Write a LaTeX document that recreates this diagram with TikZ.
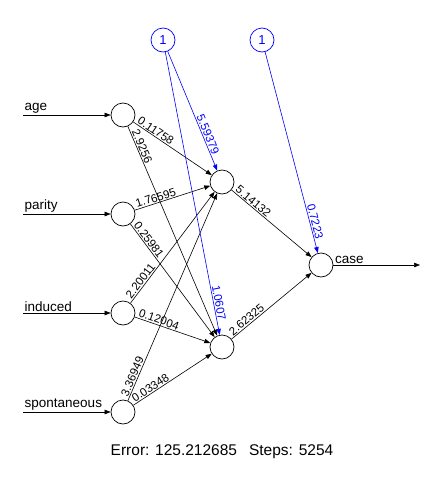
\documentclass[tikz,border=0pt]{standalone}
\usepackage{fontspec}
\setmainfont{Liberation Sans}
\usetikzlibrary{arrows.meta, positioning}
\tikzstyle{neuron} = [circle, draw, minimum size=24pt, inner sep=0pt, line width=0.7pt]
\tikzstyle{biasnode} = [neuron, draw=blue, text=blue, font=\fontsize{13}{15}\selectfont]
\tikzstyle{conn} = [->, >={Triangle[length=6pt,width=4.5pt]}, line width=0.6pt]
\tikzstyle{biasconn} = [conn, draw=blue]
\tikzstyle{weight} = [sloped, above, inner sep=1pt, font=\fontsize{11.5}{13}\selectfont]
\tikzstyle{inlabel} = [anchor=south west, inner sep=1.5pt, font=\fontsize{13.5}{15}\selectfont]

\begin{document}
\begin{tikzpicture}[x=1pt, y=-1pt, node distance=99pt]
\useasboundingbox (0,0) rectangle (438,482);

% input layer
\node (age)    [neuron] at (123,115) {};
\node (parity) [neuron, below of=age] {};
\node (induced)[neuron, below of=parity] {};
\node (spont)  [neuron, below of=induced] {};

% hidden and output layer
\node (hid1) [neuron] at (222,182) {};
\node (hid2) [neuron] at (222,347) {};
\node (out)  [neuron] at (321,265) {};

% bias nodes
\node (bias1) [biasnode] at (163,40) {1};
\node (bias2) [biasnode] at (262,40) {1};

\coordinate (agein)     at (23,115);
\coordinate (parityin)  at (23,214);
\coordinate (inducedin) at (23,313);
\coordinate (spontin)   at (23,412);
\coordinate (outend)    at (420,265);

\node (agelab)     [inlabel] at (agein) {age};
\node (paritylab)  [inlabel] at (parityin) {parity};
\node (inducedlab) [inlabel] at (inducedin) {induced};
\node (spontlab)   [inlabel] at (spontin) {spontaneous};
\node (caselab)    [inlabel] at (out.east) {case};

\draw[conn] (agein) -- (age);
\draw[conn] (parityin) -- (parity);
\draw[conn] (inducedin) -- (induced);
\draw[conn] (spontin) -- (spont);
\draw[conn] (out) -- (outend);

% weights
\draw[conn] (age) -- node[weight, pos=0.25] {0.11758} (hid1);
\draw[conn] (age) -- node[weight, pos=0.105] {2.9256} (hid2);
\draw[conn] (parity) -- node[weight, pos=0.30] {1.76595} (hid1);
\draw[conn] (parity) -- node[weight, pos=0.17] {0.25981} (hid2);
\draw[conn] (induced) -- node[weight, pos=0.17] {2.20011} (hid1);
\draw[conn] (induced) -- node[weight, pos=0.30] {0.12004} (hid2);
\draw[conn] (spont) -- node[weight, pos=0.106] {3.36949} (hid1);
\draw[conn] (spont) -- node[weight, pos=0.255] {0.03348} (hid2);
\draw[conn] (hid1) -- node[weight, pos=0.23] {5.14132} (out);
\draw[conn] (hid2) -- node[weight, pos=0.23] {2.62325} (out);

% bias weights
\draw[biasconn] (bias1) -- node[weight, blue, pos=0.715] {5.59379} (hid1);
\draw[biasconn] (bias1) -- node[weight, blue, pos=0.89] {1.0607} (hid2);
\draw[biasconn] (bias2) -- node[weight, blue, pos=0.85] {0.7223} (out);

\node (footer) [font=\fontsize{15.5}{18}\selectfont] at (222,452) {Error: 125.212685\hspace{12pt}Steps: 5254};

\end{tikzpicture}
\end{document}
